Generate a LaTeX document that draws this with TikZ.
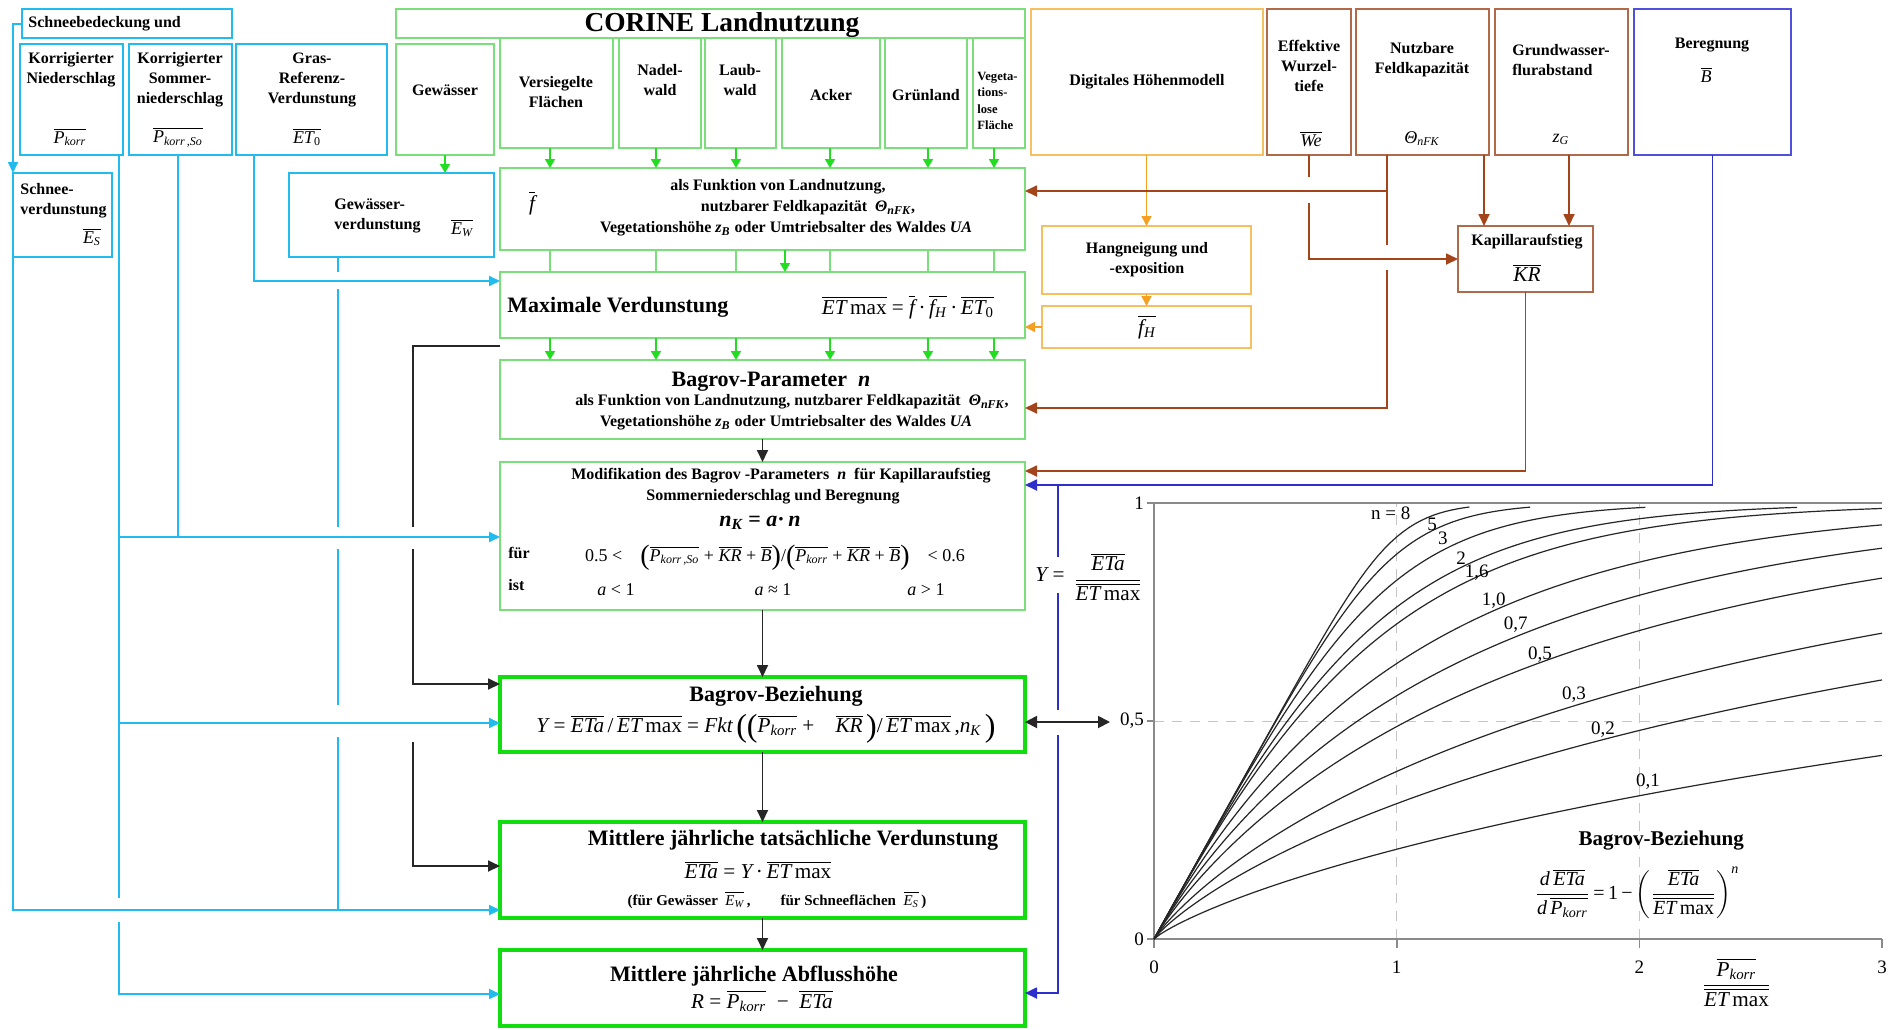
\documentclass[tikz,border=0pt]{standalone}
\usepackage{fontspec}
\setmainfont{Liberation Serif}
\usetikzlibrary{arrows.meta}
\definecolor{cyn}{HTML}{22BBEE}
\definecolor{grn}{HTML}{22DD22}
\definecolor{lgrn}{HTML}{7ADF7A}
\definecolor{tgrn}{HTML}{11DD11}
\definecolor{org}{HTML}{F5A020}
\definecolor{lorg}{HTML}{F6C060}
\definecolor{brn}{HTML}{A3441B}
\definecolor{lbrn}{HTML}{B06A4A}
\definecolor{blu}{HTML}{2E2ECC}
\definecolor{lblu}{HTML}{5050DD}
\definecolor{gry}{HTML}{8A8A8A}
\newcommand\ol[1]{\ensuremath{\overline{\hbox{#1}}}}
\newcommand\mi[1]{{\normalfont\itshape #1}}
\newcommand\sbs[1]{\textsubscript{#1}}
\newcommand\bp[1]{\raisebox{-1.5pt}{\fontsize{14}{14}\selectfont #1}}
\newcommand\bpl[1]{\raisebox{-2pt}{\fontsize{16}{16}\selectfont #1}}
\newcommand\bx[6]{\node[#2,anchor=north west,minimum width={(#5-#3)*0.5pt},minimum height={(#6-#4)*0.5pt}] (#1) at (#3,#4) {};}
\begin{document}
\begin{tikzpicture}[x=0.5pt,y=-0.5pt,
  base/.style={inner sep=0pt,outer sep=0pt},
  cbox/.style={base,draw=cyn,line width=0.8pt},
  gbox/.style={base,draw=lgrn,line width=0.8pt},
  Gbox/.style={base,draw=tgrn,line width=2pt},
  obox/.style={base,draw=lorg,line width=0.8pt},
  rbox/.style={base,draw=lbrn,line width=0.7pt},
  ubox/.style={base,draw=lblu,line width=0.8pt},
  tx/.style={inner sep=0pt,align=center,font=\fontsize{8}{10}\selectfont\bfseries},
  big/.style={tx,font=\fontsize{11}{13}\selectfont\bfseries},
  fm/.style={inner sep=0pt,align=center,font=\fontsize{9}{11}\selectfont},
  fmb/.style={inner sep=0pt,align=center,font=\fontsize{10.6}{12}\selectfont},
  cl/.style={inner sep=0pt,font=\fontsize{9.5}{11}\selectfont},
  cyl/.style={draw=cyn,line width=1pt},
  cya/.style={cyl,-{Triangle[length=5.5pt,width=5pt]}},
  gra/.style={draw=grn,line width=0.9pt,-{Triangle[length=4.5pt,width=5pt]}},
  gtk/.style={draw=lgrn,line width=0.6pt},
  ora/.style={draw=org,line width=0.8pt,-{Triangle[length=5pt,width=5pt]}},
  brl/.style={draw=brn,line width=0.9pt},
  bra/.style={brl,-{Triangle[length=6pt,width=5.5pt]}},
  bll/.style={draw=blu,line width=0.9pt},
  bla/.style={bll,-{Triangle[length=6pt,width=5.5pt]}},
  kl/.style={draw=black!85,line width=0.9pt},
  ka/.style={kl,-{Triangle[length=6pt,width=5.5pt]}},
  axis/.style={draw=gry,line width=0.8pt},
  grid/.style={draw=gry!50,line width=0.5pt,dash pattern=on 5pt off 4pt},
  crv/.style={draw=black!85,line width=0.6pt,line join=round}]
\fill[white] (0,0) rectangle (1895,1029);
\useasboundingbox (0,0) rectangle (1895,1029);
% ---------- boxes ----------
\bx{snow}{cbox}{22}{9}{232}{38}
\bx{pk}{cbox}{20}{44}{123}{155}
\bx{pks}{cbox}{129}{44}{232}{155}
\bx{et0}{cbox}{236}{44}{387}{155}
\bx{gew}{gbox}{396}{44}{494}{155}
\bx{corine}{gbox}{396}{9}{1025}{38}
\bx{vers}{gbox}{500}{38}{613}{148}
\bx{nadel}{gbox}{619}{38}{701}{148}
\bx{laub}{gbox}{705}{38}{776}{148}
\bx{acker}{gbox}{782}{38}{880}{148}
\bx{gruen}{gbox}{885}{38}{967}{148}
\bx{veg}{gbox}{973}{38}{1025}{148}
\bx{dhm}{obox}{1031}{9}{1263}{155}
\bx{we}{rbox}{1267}{9}{1351}{155}
\bx{nfk}{rbox}{1356}{9}{1489}{155}
\bx{zg}{rbox}{1495}{9}{1628}{155}
\bx{ber}{ubox}{1634}{9}{1791}{155}
\bx{snowev}{cbox}{13}{173}{112}{257}
\bx{gewev}{cbox}{289}{173}{494}{257}
\bx{fbox}{gbox}{500}{168}{1025}{250}
\bx{hang}{obox}{1042}{226}{1251}{294}
\bx{fh}{obox}{1042}{306}{1251}{348}
\bx{kap}{rbox}{1458}{226}{1593}{292}
\bx{maxv}{gbox}{500}{272}{1025}{338}
\bx{bpar}{gbox}{500}{360}{1025}{439}
\bx{modi}{gbox}{500}{462}{1025}{610}
\bx{bbez}{Gbox}{500}{677}{1025}{752}
\bx{eta}{Gbox}{500}{822}{1025}{918}
\bx{abfl}{Gbox}{500}{950}{1025}{1026}
% ---------- helper coordinates ----------
\foreach \v in {119,178,254,338,413,550,656,736,785,830,928,994,1058,1387,1484,1569}{\coordinate (X\v) at (\v,0);}
\foreach \v in {177,191,203,245,270,272,281,289,346,408,471,485,527,537,549,557,593,684,705,710,722,723,735,737,742,866,898,910,922,993,994}{\coordinate (Y\v) at (0,\v);}
\coordinate (dbl) at (1110,722);
% ---------- cyan connectors ----------
\draw[cya] (snow.west) -- (snowev.north west |- snow.west) -- (snowev.north west);
\draw[cya] (snowev.south west) -- (snowev.south west |- Y910) -- (eta.west |- Y910);
\draw[cyl] (pk.south -| X119) -- (X119 |- Y898);
\draw[cya] (X119 |- Y922) -- (X119 |- Y994) -- (abfl.west |- Y994);
\draw[cya] (X119 |- Y537) -- (modi.west |- Y537);
\draw[cya] (X119 |- Y723) -- (bbez.west |- Y723);
\draw[cyl] (pks.south -| X178) -- (X178 |- Y537);
\draw[cya] (et0.south -| X254) -- (X254 |- Y281) -- (maxv.west |- Y281);
\draw[cyl] (gewev.south -| X338) -- (X338 |- Y272);
\draw[cyl] (X338 |- Y289) -- (X338 |- Y527);
\draw[cyl] (X338 |- Y549) -- (X338 |- Y705);
\draw[cyl] (X338 |- Y737) -- (X338 |- Y910);
% ---------- black connectors ----------
\draw[kl] (maxv.west |- Y346) -- (X413 |- Y346) -- (X413 |- Y527);
\draw[ka] (X413 |- Y549) -- (X413 |- Y684) -- (bbez.west |- Y684);
\draw[ka] (X413 |- Y742) -- (X413 |- Y866) -- (eta.west |- Y866);
\draw[ka] (bpar.south) -- (modi.north);
\draw[ka] (modi.south) -- (bbez.north);
\draw[ka] (bbez.south) -- (eta.north);
\draw[ka] (eta.south) -- (abfl.north);
\draw[kl,{Triangle[length=6pt,width=6pt]}-{Triangle[length=6pt,width=6pt]}] (bbez.east |- Y722) -- (dbl);
% ---------- green connectors ----------
\foreach \b/\x in {vers/550,nadel/656,laub/736,acker/830,gruen/928,veg/994}{
  \draw[gra] (\b.south -| X\x) -- (fbox.north -| X\x);
  \draw[gtk] (fbox.south -| X\x) -- (maxv.north -| X\x);
  \draw[gra] (maxv.south -| X\x) -- (bpar.north -| X\x);
}
\draw[gra] (fbox.south -| X785) -- (maxv.north -| X785);
\draw[gra] (gew.south) -- (gewev.north -| gew.south);
% ---------- orange connectors ----------
\draw[ora] (dhm.south -| hang.north) -- (hang.north);
\draw[ora] (hang.south) -- (fh.north);
\draw[ora] (fh.west) -- (maxv.east |- fh.west);
% ---------- brown connectors ----------
\draw[brl] (nfk.south -| X1387) -- (X1387 |- Y245);
\draw[bra] (X1387 |- Y191) -- (fbox.east |- Y191);
\draw[bra] (X1387 |- Y270) -- (X1387 |- Y408) -- (bpar.east |- Y408);
\draw[brl] (we.south) -- (we.south |- Y177);
\draw[bra] (we.south |- Y203) -- (we.south |- kap.west) -- (kap.west);
\draw[bra] (nfk.south -| X1484) -- (kap.north -| X1484);
\draw[bra] (zg.south -| X1569) -- (kap.north -| X1569);
\draw[bra] (kap.south) -- (kap.south |- Y471) -- (modi.east |- Y471);
% ---------- blue connectors ----------
\draw[bla] (ber.south) -- (ber.south |- Y485) -- (modi.east |- Y485);
\draw[bll] (X1058 |- Y485) -- (X1058 |- Y557);
\draw[bll] (X1058 |- Y593) -- (X1058 |- Y710);
\draw[bla] (X1058 |- Y735) -- (X1058 |- Y993) -- (abfl.east |- Y993);
% ---------- texts: top rows ----------
\node[tx,anchor=west] (tsnow) at (28,24) {Schneebedeckung und};
\node[tx,font=\fontsize{13.7}{15}\selectfont\bfseries] (tcor) at (722,25) {CORINE Landnutzung};
\node[tx] (tpk) at (71,70) {Korrigierter\\Niederschlag};
\node[fm] (fpk) at (70,137) {\ol{\mi{P\sbs{korr}}}};
\node[tx] (tpks) at (180,80) {Korrigierter\\Sommer-\\niederschlag};
\node[fm] (fpks) at (178,137) {\ol{\mi{P\sbs{korr\,,So}}}};
\node[tx] (tet0) at (312,80) {Gras-\\Referenz-\\Verdunstung};
\node[fm] (fet0) at (307,137) {\ol{\mi{ET\sbs{\upshape 0}}}};
\node[tx] (tgew) at (445,90) {Gewässer};
\node[tx] (tvers) at (556,92) {Versiegelte\\Flächen};
\node[tx] (tnadel) at (660,80) {Nadel-\\wald};
\node[tx] (tlaub) at (740,80) {Laub-\\wald};
\node[tx] (tacker) at (831,95) {Acker};
\node[tx] (tgruen) at (926,95) {Grünland};
\node[tx,font=\fontsize{6.3}{8.2}\selectfont\bfseries,align=left,anchor=west] (tveg) at (977,101) {Vegeta-\\tions-\\lose\\Fläche};
\node[tx] (tdhm) at (1147,82) {Digitales Höhenmodell};
\node[tx] (twe) at (1309,66) {Effektive\\Wurzel-\\tiefe};
\node[fm] (fwe) at (1311,139) {\ol{\mi{We}}};
\node[tx] (tnfk) at (1422,60) {Nutzbare\\Feldkapazität};
\node[fm] (fnfk) at (1422,139) {\mi{Θ\sbs{nFK}}};
\node[tx,align=left,anchor=west] (tzg) at (1512,60) {Grundwasser-\\flurabstand};
\node[fm] (fzg) at (1561,139) {\mi{z\sbs{G}}};
\node[tx] (tber) at (1712,45) {Beregnung};
\node[fm] (fber) at (1706,75) {\ol{\mi{B}}};
% ---------- second row ----------
\node[tx,align=left,anchor=west] (tsev) at (20,201) {Schnee-\\verdunstung};
\node[fm] (fsev) at (92,237) {\ol{\mi{E\sbs{S}}}};
\node[tx,align=left,anchor=west] (tgev) at (334,216) {Gewässer-\\verdunstung};
\node[fm] (fgev) at (462,228) {\ol{\mi{E\sbs{W}}}};
\node[fmb] (ff) at (532,203) {\ol{\mi{f}}};
\node[tx] (f1) at (778,187) {als Funktion von Landnutzung,};
\node[tx] (f2) at (808,208) {nutzbarer Feldkapazität\enspace\textit{Θ\sbs{nFK}},};
\node[tx] (f3) at (786,229) {Vegetationshöhe \textit{z\sbs{B}} oder Umtriebsalter des Waldes \textit{UA}};
\node[tx] (thang) at (1147,260) {Hangneigung und\\-exposition};
\node[fmb] (ffh) at (1147,327) {\ol{\mi{f\sbs{H}}}};
\node[tx] (tkap) at (1527,242) {Kapillaraufstieg};
\node[fmb] (fkap) at (1527,273) {\ol{\mi{KR}}};
% ---------- middle column ----------
\node[big,anchor=west] (m1) at (507,307) {Maximale Verdunstung};
\node[fmb] (m2) at (908,307) {\ol{\mi{ET}\,max} = \ol{\mi{f}}\,·\,\ol{\mi{f\sbs{H}}}\,·\,\ol{\mi{ET\sbs{\upshape 0}}}};
\node[big] (p1) at (771,382) {Bagrov-Parameter\enspace\textit{n}};
\node[tx] (p2) at (792,402) {als Funktion von Landnutzung, nutzbarer Feldkapazität\enspace\textit{Θ\sbs{nFK}},};
\node[tx] (p3) at (786,423) {Vegetationshöhe \textit{z\sbs{B}} oder Umtriebsalter des Waldes \textit{UA}};
\node[tx] (q1) at (781,476) {Modifikation des Bagrov -Parameters\enspace\textit{n}\enspace für Kapillaraufstieg};
\node[tx] (q2) at (773,497) {Sommerniederschlag und Beregnung};
\node[big] (q3) at (760,523) {\textit{n\sbs{K}} = \textit{a}·\,\textit{n}};
\node[tx,anchor=west] (q4) at (508,553) {für};
\node[tx,anchor=west] (q5) at (508,585) {ist};
\node[fm] (q6) at (775,558) {0.5 <\quad\bp{(}\ol{\mi{P\sbs{korr\,,So}}} + \ol{\mi{KR}} + \ol{\mi{B}}\bp{)}/\bp{(}\ol{\mi{P\sbs{korr}}} + \ol{\mi{KR}} + \ol{\mi{B}}\bp{)}\quad< 0.6};
\node[fm] (q7) at (616,590) {\mi{a} < 1};
\node[fm] (q8) at (773,590) {\mi{a} ≈ 1};
\node[fm] (q9) at (926,590) {\mi{a} > 1};
\node[big] (b1) at (776,696) {Bagrov-Beziehung};
\node[fmb] (b2) at (766,729) {\mi{Y} = \ol{\mi{ETa}}\,/\,\ol{\mi{ET}\,max} = \mi{Fkt}\,\bpl{(}\bpl{(}\ol{\mi{P\sbs{korr}}} +\quad \ol{\mi{KR}}\,\bpl{)}/\,\ol{\mi{ET}\,max}\,,\mi{n\sbs{K}}\,\bpl{)}};
\node[big] (e1) at (793,840) {Mittlere jährliche tatsächliche Verdunstung};
\node[fmb] (e2) at (758,870) {\ol{\mi{ETa}} = \mi{Y}\,·\,\ol{\mi{ET}\,max}};
\node[tx,font=\fontsize{7.5}{9}\selectfont\bfseries] (e3) at (777,900) {(für Gewässer\enspace\ol{\mi{E\sbs{W}}}\,,\qquad für Schneeflächen\enspace\ol{\mi{E\sbs{S}}}\,)};
\node[big] (a1) at (754,976) {Mittlere jährliche Abflusshöhe};
\node[fmb] (a2) at (762,1001) {\mi{R} = \ol{\mi{P\sbs{korr}}}\enspace−\enspace\ol{\mi{ETa}}};
% ---------- Y label ----------
\node[fmb] (ylab1) at (1050,575) {\mi{Y} =};
\node[fmb] (ylab2) at (1108,577) {$\displaystyle\frac{\ol{\mi{ETa}}}{\ol{\mi{ET}\,max}}$};
% ---------- chart ----------
\begin{scope}[shift={(1154,939)},x=121.35pt,y=218pt]
  \draw[grid] (0,0.5) -- (3,0.5);
  \draw[grid] (1,0) -- (1,1);
  \draw[grid] (2,0) -- (2,1);
  \draw[axis] (0,1) -- (0,0) -- (3,0);
  \draw[axis] (0,1) -- (3,1);
  \foreach \t in {0,0.5,1}{\draw[axis] (-0.03,\t) -- (0,\t);}
  \foreach \t in {0,1,2,3}{\draw[axis] (\t,0) -- (\t,-0.02);}
  \foreach \nn/\xe in {8/1.3,5/1.54,3/2.02,2/2.65,1.6/3,1/3,0.7/3,0.5/3,0.3/3,0.2/3,0.1/3}{
    \xdef\yy{0}
    \xdef\crvlist{(0,0)}
    \pgfmathtruncatemacro\ns{round(\xe/0.025)}
    \foreach \k in {1,...,\ns}{
      \pgfmathsetmacro\ka{1-pow(max(\yy,0.0001),\nn)}
      \pgfmathsetmacro\kb{1-pow(max(\yy+0.0125*\ka,0.0001),\nn)}
      \pgfmathsetmacro\kc{1-pow(max(\yy+0.0125*\kb,0.0001),\nn)}
      \pgfmathsetmacro\kd{1-pow(max(\yy+0.025*\kc,0.0001),\nn)}
      \pgfmathsetmacro\ynew{\yy+0.025*(\ka+2*\kb+2*\kc+\kd)/6}
      \pgfmathsetmacro\xnew{\k*0.025}
      \xdef\yy{\ynew}
      \xdef\crvlist{\crvlist (\xnew,\ynew)}
    }
    \edef\tmp{\noexpand\draw[crv] plot coordinates {\crvlist};}
    \tmp
  }
  \node[cl,anchor=east] (ty1) at (-0.04,1) {1};
  \node[cl,anchor=east] (ty05) at (-0.04,0.5) {0,5};
  \node[cl,anchor=east] (ty0) at (-0.04,0) {0};
  \node[cl] (tx0) at (0,-0.065) {0};
  \node[cl] (tx1) at (1,-0.065) {1};
  \node[cl] (tx2) at (2,-0.065) {2};
  \node[cl] (tx3) at (3,-0.065) {3};
  \node[cl] (l8) at (0.975,0.976) {n = 8};
  \node[cl] (l5) at (1.146,0.95) {5};
  \node[cl] (l3) at (1.19,0.918) {3};
  \node[cl] (l2) at (1.265,0.874) {2};
  \node[cl] (l16) at (1.33,0.84) {1,6};
  \node[cl] (l10) at (1.40,0.777) {1,0};
  \node[cl] (l07) at (1.49,0.72) {0,7};
  \node[cl] (l05) at (1.59,0.653) {0,5};
  \node[cl] (l03) at (1.73,0.56) {0,3};
  \node[cl] (l02) at (1.85,0.48) {0,2};
  \node[cl] (l01) at (2.035,0.36) {0,1};
  \node[tx,font=\fontsize{10.5}{12}\selectfont\bfseries] (cb) at (2.09,0.227) {Bagrov-Beziehung};
  \node[inner sep=0pt,font=\fontsize{10}{12}\selectfont] (cf) at (1.99,0.106) {$\displaystyle\frac{\hbox{\mi{d}\,\ol{\mi{ETa}}}}{\hbox{\mi{d}\,\ol{\mi{P\sbs{korr}}}}}$\,=\,1\,−\,$\displaystyle\left(\frac{\ol{\mi{ETa}}}{\ol{\mi{ET}\,max}}\right)^{\hbox{\scriptsize\mi{n}}}$};
  \node[fmb] (cx) at (2.40,-0.10) {$\displaystyle\frac{\ol{\mi{P\sbs{korr}}}}{\ol{\mi{ET}\,max}}$};
\end{scope}
\end{tikzpicture}
\end{document}
